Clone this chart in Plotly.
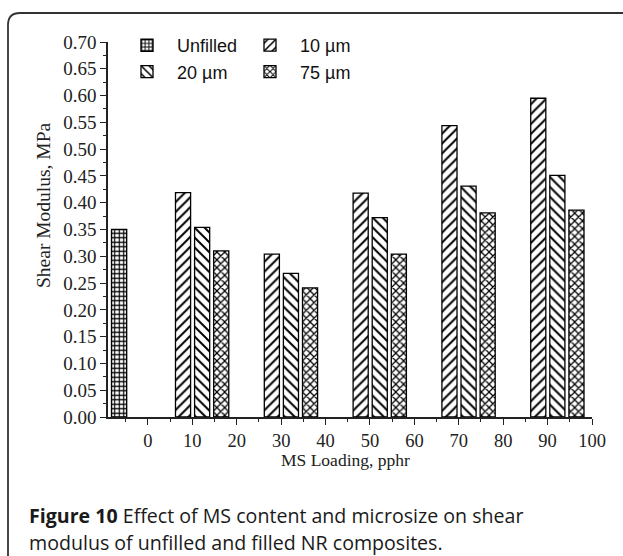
import plotly.graph_objects as go

# ---- data ----
loadings = [10, 30, 50, 70, 90]
unfilled_x = [0]
unfilled_y = [0.35]
um10 = [0.419, 0.304, 0.418, 0.544, 0.595]
um20 = [0.354, 0.268, 0.372, 0.431, 0.451]
um75 = [0.310, 0.241, 0.304, 0.381, 0.386]
x_ticks = list(range(0, 101, 10))

W, H = 623, 556
L, R, T, B = 108, 31, 42, 139
PW, PH = W - L - R, H - T - B


def px(x):
    return (x - L) / PW


def py(y):
    return (H - B - y) / PH


BAR_W = 3.4
serif = "Liberation Serif"
sans = "Liberation Sans"


def pat(shape, size, sol):
    return dict(shape=shape, size=size, solidity=sol, fgcolor="black",
                bgcolor="white", fillmode="replace")


fig = go.Figure()
fig.add_trace(go.Bar(x=unfilled_x, y=unfilled_y, name="Unfilled", width=BAR_W, offset=-8.2,
                     marker=dict(color="white", line=dict(color="black", width=1.4),
                                 pattern=pat("+", 4.5, 0.45)), legend="legend"))
fig.add_trace(go.Bar(x=loadings, y=um10, name="10 µm", width=BAR_W, offset=-3.8,
                     marker=dict(color="white", line=dict(color="black", width=1.3),
                                 pattern=pat("/", 7, 0.28)), legend="legend2"))
fig.add_trace(go.Bar(x=loadings, y=um20, name="20 µm", width=BAR_W, offset=0.5,
                     marker=dict(color="white", line=dict(color="black", width=1.3),
                                 pattern=pat("\\", 7, 0.28)), legend="legend"))
fig.add_trace(go.Bar(x=loadings, y=um75, name="75 µm", width=BAR_W, offset=4.8,
                     marker=dict(color="white", line=dict(color="black", width=1.3),
                                 pattern=pat("x", 5.5, 0.4)), legend="legend2"))

axis_common = dict(showline=True, linecolor="#222", linewidth=1.5, showgrid=False,
                   zeroline=False, ticks="outside", tickcolor="#222", tickwidth=1.3,
                   ticklen=6)

fig.update_xaxes(range=[-9, 100], tickvals=x_ticks, ticktext=[str(v) for v in x_ticks],
                 tickfont=dict(family=serif, size=18.5, color="#222"),
                 minor=dict(dtick=5, tick0=0, ticks="outside", ticklen=3, tickcolor="#222",
                            tickwidth=1.2),
                 **axis_common)
fig.update_yaxes(range=[0, 0.70], dtick=0.05, tick0=0, tickformat=".2f",
                 tickfont=dict(family=serif, size=19, color="#222"),
                 minor=dict(dtick=0.025, tick0=0, ticks="outside", ticklen=3,
                            tickcolor="#222", tickwidth=1.2),
                 **axis_common)

leg_common = dict(orientation="v", xanchor="left", yanchor="top", bgcolor="rgba(0,0,0,0)",
                  font=dict(family=sans, size=18, color="#111"), itemwidth=50,
                  tracegroupgap=0)
fig.update_layout(
    width=W, height=H, autosize=False,
    margin=dict(l=L, r=R, t=T, b=B),
    paper_bgcolor="white", plot_bgcolor="white",
    barmode="overlay", showlegend=True,
    legend=dict(x=px(117), y=py(27), **leg_common),
    legend2=dict(x=px(240), y=py(27), **leg_common),
)

# y-axis title and x-axis title
fig.add_annotation(text="Shear Modulus, MPa", xref="paper", yref="paper", x=px(43), y=py(205),
                   textangle=-90, showarrow=False, xanchor="center", yanchor="middle",
                   font=dict(family=serif, size=19.5, color="#222"))
fig.add_annotation(text="MS Loading, pphr", xref="paper", yref="paper", x=px(345), y=py(460),
                   showarrow=False, xanchor="center", yanchor="middle",
                   font=dict(family=serif, size=17.5, color="#222"))

# caption
cap_font = dict(family="Open Sans", size=19.6, color="#1a1a1a")
fig.add_annotation(text="<b>Figure 10</b> Effect of MS content and microsize on shear",
                   xref="paper", yref="paper", x=px(27), y=py(515), showarrow=False,
                   xanchor="left", yanchor="middle", font=cap_font)
fig.add_annotation(text="modulus of unfilled and filled NR composites.",
                   xref="paper", yref="paper", x=px(27), y=py(542), showarrow=False,
                   xanchor="left", yanchor="middle", font=cap_font)

# rounded frame (top and left edges visible)
path = (f"M {px(8)},{py(570)} L {px(8)},{py(25)} "
        f"Q {px(8)},{py(13)} {px(20)},{py(13)} L {px(640)},{py(13)}")
fig.add_shape(type="path", path=path, xref="paper", yref="paper",
              line=dict(color="#333", width=1.8), layer="above")

fig.write_html("out.html")
